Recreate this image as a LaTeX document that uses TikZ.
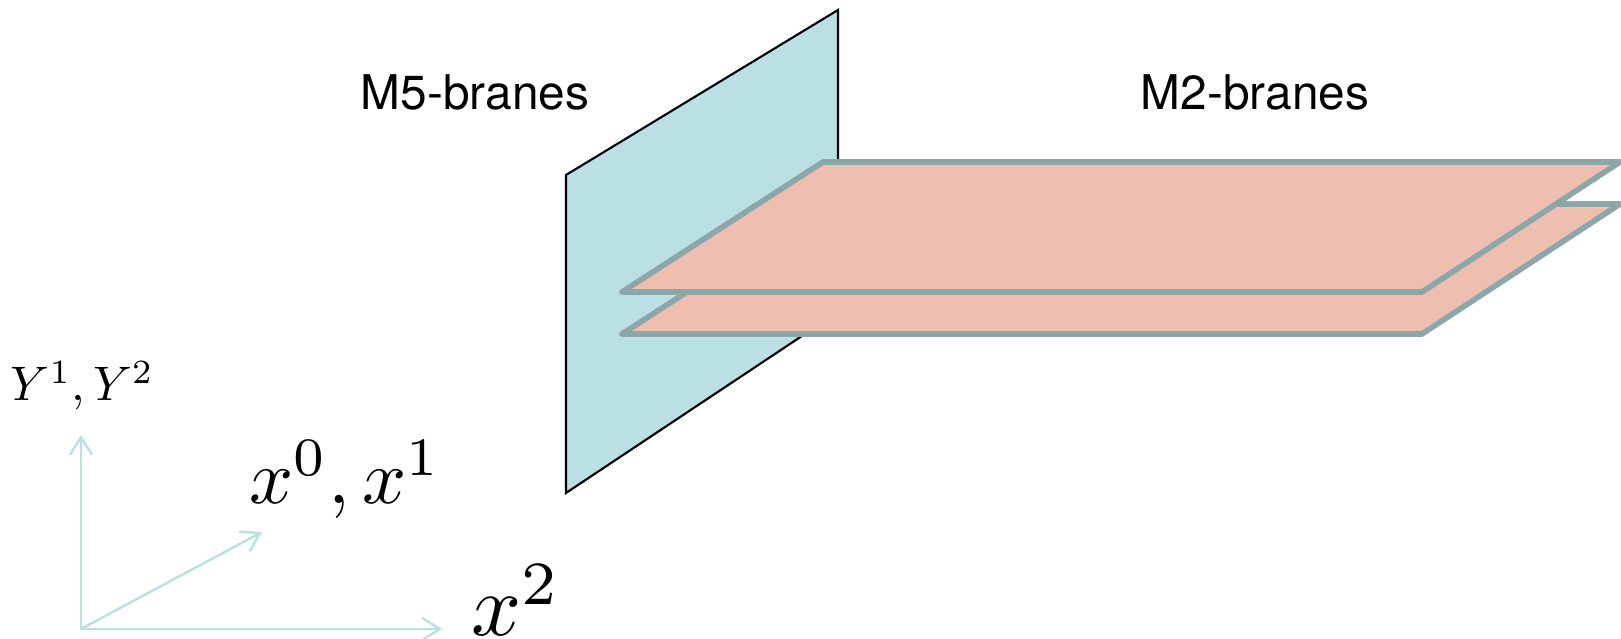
\documentclass[tikz,border=0pt]{standalone}
\usepackage{fontspec}
\setmainfont{TeX Gyre Heros}
\definecolor{wallblue}{HTML}{BBE0E3}
\definecolor{braneedge}{HTML}{8CA7A9}
\definecolor{branefill}{HTML}{EEBEB0}
\usetikzlibrary{arrows.meta}
\tikzset{
  branesheet/.style={fill=branefill, draw=braneedge, line width=1.6pt, line join=round},
  axisarrow/.style={draw=wallblue, line width=0.7pt, -{Straight Barb[length=5pt,width=6.3pt]}},
  branelabel/.style={inner sep=0pt, font=\fontsize{13.6}{16}\selectfont},
  axislabel/.style={inner sep=0pt, anchor=base west}
}
\begin{document}
\begin{tikzpicture}[line cap=round]
  \useasboundingbox (0,0) rectangle (16.21,6.39);
  % la pared
  \filldraw[fill=wallblue, draw=black, line width=0.6pt] (5.66,1.46) -- (5.66,4.64) -- (8.38,6.29) -- (8.38,3.27) -- cycle;
  % las dos branas
  \filldraw[branesheet] (6.22,3.05) -- (8.23,4.35) -- (16.20,4.35) -- (14.22,3.05) -- cycle;
  \filldraw[branesheet] (6.22,3.47) -- (8.23,4.77) -- (16.20,4.77) -- (14.22,3.47) -- cycle;
  % los textos
  \node[branelabel] (mfive) at (4.75,5.47) {M5-branes};
  \node[branelabel] (mtwo) at (12.55,5.47) {M2-branes};
  % los ejes
  \coordinate (origin) at (0.81,0.10);
  \coordinate (yaxis) at (0.81,2.04);
  \coordinate (xaxis) at (2.62,1.07);
  \coordinate (zaxis) at (4.42,0.10);
  \draw[axisarrow] (origin) -- (yaxis);
  \draw[axisarrow] (origin) -- (xaxis);
  \draw[axisarrow] (origin) -- (zaxis);
  \node[axislabel, scale=1.38] (ylabel) at (0.10,2.38) {$Y^1,Y^2$};
  \node[axislabel, scale=2.2] (xlabel) at (2.48,1.35) {$x^0,x^1$};
  \node[axislabel, scale=2.5] (zlabel) at (4.70,0.03) {$x^2$};
\end{tikzpicture}
\end{document}
